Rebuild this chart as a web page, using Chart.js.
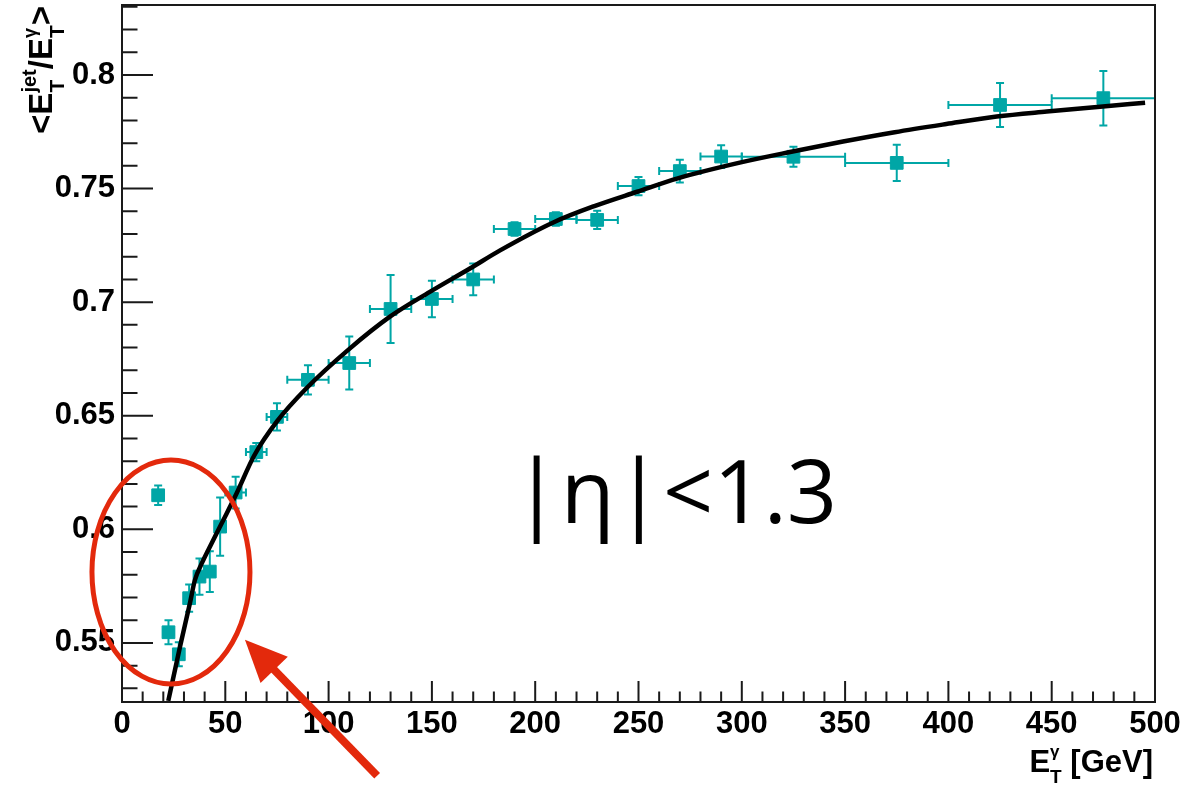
<!DOCTYPE html>
<html>
<head>
<meta charset="utf-8">
<script src="https://cdn.jsdelivr.net/npm/chart.js@4.4.1/dist/chart.umd.min.js"></script>
<style>
  html, body { margin: 0; padding: 0; background: #fff; }
  #wrap { width: 1184px; height: 785px; }
</style>
</head>
<body>
<div id="wrap"><canvas id="resp" width="1184" height="785"></canvas></div>
<script>
// photon E_T bins (centres and half widths)
const etGamma = [17.5, 22.5, 27.5, 32.5, 37.5, 42.5, 47.5, 55, 65, 75, 90, 110, 130, 150, 170,
                 190, 210, 230, 250, 270, 290, 325, 375, 425, 475];
const etHalfWidth = [2.5, 2.5, 2.5, 2.5, 2.5, 2.5, 2.5, 5, 5, 5, 10, 10, 10, 10, 10,
                     10, 10, 10, 10, 10, 10, 25, 25, 25, 25];
// mean jet/photon response and its error
const response = [0.615, 0.5547, 0.545, 0.5697, 0.5792, 0.5814, 0.6012, 0.6162, 0.634, 0.6495,
                  0.6658, 0.6732, 0.697, 0.7014, 0.710, 0.7322, 0.7366, 0.7362, 0.7511, 0.7577,
                  0.7641, 0.764, 0.7613, 0.7868, 0.7898];
const responseErr = [0.0043, 0.0053, 0.0053, 0.006, 0.008, 0.009, 0.0128, 0.007, 0.004, 0.006,
                     0.0064, 0.0117, 0.015, 0.008, 0.007, 0.003, 0.003, 0.004, 0.004, 0.005,
                     0.005, 0.0044, 0.008, 0.0097, 0.012];
// fitted curve
const fitEt = [22.4, 28.1, 32.9, 35.3, 38.6, 43.4, 49, 55.5, 64, 75, 89.4, 109.5, 129.7, 149,
               168.4, 183, 209, 229, 249.3, 269, 299, 324, 349, 374, 399, 423.4, 447.6, 473.4, 495.2];
const fitResponse = [0.5245, 0.5484, 0.5676, 0.5777, 0.585, 0.5939, 0.604, 0.6159, 0.6325, 0.6475,
                     0.6622, 0.679, 0.6936, 0.7045, 0.7148, 0.7228, 0.7352, 0.7424, 0.7486, 0.7545,
                     0.7614, 0.7662, 0.7707, 0.7748, 0.7784, 0.7817, 0.7839, 0.786, 0.7878];

const xTicks = [0, 50, 100, 150, 200, 250, 300, 350, 400, 450, 500];
const yTicks = [0.55, 0.6, 0.65, 0.7, 0.75, 0.8];

const TEAL = '#00a6a6';
const RED = '#e3290c';
const AXIS = '#1a1a1a';
const LABEL_FONT = 'Liberation Sans, Arial, Helvetica, sans-serif';

// annotation anchors, in data units
const circleCentre = { x: 23.7, y: 0.5812 };
const arrowTail = { x: 123.5, y: 0.4915 };
const arrowTip = { x: 59.5, y: 0.5514 };
const etaLabel = { x: 189, y: 0.6028, text: '|η|<1.3' };

function drawErrorBars(chart) {
  const c = chart.ctx, xs = chart.scales.x, ys = chart.scales.y;
  const cap = 4;
  c.save();
  c.strokeStyle = TEAL;
  c.lineWidth = 2;
  etGamma.forEach((et, i) => {
    const px = xs.getPixelForValue(et);
    const py = ys.getPixelForValue(response[i]);
    const x0 = xs.getPixelForValue(et - etHalfWidth[i]);
    const x1 = xs.getPixelForValue(et + etHalfWidth[i]);
    const y0 = ys.getPixelForValue(response[i] - responseErr[i]);
    const y1 = ys.getPixelForValue(response[i] + responseErr[i]);
    c.beginPath();
    c.moveTo(x0, py); c.lineTo(x1, py);
    c.moveTo(x0, py - cap); c.lineTo(x0, py + cap);
    c.moveTo(x1, py - cap); c.lineTo(x1, py + cap);
    c.moveTo(px, y0); c.lineTo(px, y1);
    c.moveTo(px - cap, y0); c.lineTo(px + cap, y0);
    c.moveTo(px - cap, y1); c.lineTo(px + cap, y1);
    c.stroke();
  });
  c.restore();
}

function drawFrame(chart) {
  const c = chart.ctx, a = chart.chartArea, xs = chart.scales.x, ys = chart.scales.y;
  c.save();
  c.strokeStyle = AXIS;
  c.lineWidth = 2;
  c.strokeRect(a.left, a.top, a.right - a.left, a.bottom - a.top);
  c.beginPath();
  // ticks point into the frame, like ROOT
  for (let v = 0; v <= 500; v += 10) {
    const px = xs.getPixelForValue(v);
    const len = v % 50 === 0 ? 21 : 10.5;
    c.moveTo(px, a.bottom); c.lineTo(px, a.bottom - len);
  }
  for (let k = 53; k <= 83; k++) {
    const v = k / 100;
    const py = ys.getPixelForValue(v);
    if (py < a.top || py > a.bottom) continue;
    const len = k % 5 === 0 ? 31 : 15.5;
    c.moveTo(a.left, py); c.lineTo(a.left + len, py);
  }
  c.stroke();
  c.restore();
}

// draws a run of [text, size, baselineShift] pieces left to right
function drawRun(c, x, y, pieces) {
  pieces.forEach(p => {
    if (p.stack) {
      let w = 0;
      p.stack.forEach(s => {
        c.font = 'bold ' + s[1] + 'px ' + LABEL_FONT;
        c.fillText(s[0], x, y + s[2]);
        w = Math.max(w, c.measureText(s[0]).width);
      });
      x += w;
    } else {
      c.font = 'bold ' + p[1] + 'px ' + LABEL_FONT;
      c.fillText(p[0], x, y + p[2]);
      x += c.measureText(p[0]).width;
    }
  });
  return x;
}

function drawTitles(chart) {
  const c = chart.ctx, a = chart.chartArea;
  c.save();
  c.fillStyle = '#000';
  c.textBaseline = 'alphabetic';
  c.textAlign = 'left';
  // x title, right aligned on the frame
  const xPieces = [['E', 31, 0], { stack: [['T', 19, 11], ['γ', 17, -15]] }, [' [GeV]', 31, 0]];
  const xw = drawRun(c, -5000, -5000, xPieces) + 5000;
  drawRun(c, a.right - xw - 2, 772, xPieces);
  // y title, rotated, ending at the top of the frame
  const yPieces = [['<E', 33, 0], { stack: [['T', 21, 12], ['jet', 20, -16]] }, ['/E', 33, 0],
                   { stack: [['T', 21, 12], ['γ', 18, -16]] }, ['>', 33, 0]];
  const yw = drawRun(c, -5000, -5000, yPieces) + 5000;
  c.translate(52, a.top + 1 + yw);
  c.rotate(-Math.PI / 2);
  drawRun(c, 0, 0, yPieces);
  c.restore();
}

function drawNotes(chart) {
  const c = chart.ctx, xs = chart.scales.x, ys = chart.scales.y;
  c.save();
  // |eta| range label
  c.fillStyle = '#000';
  c.font = '400 88px "Open Sans", "DejaVu Sans", sans-serif';
  c.textBaseline = 'alphabetic';
  c.textAlign = 'left';
  c.fillText(etaLabel.text, xs.getPixelForValue(etaLabel.x), ys.getPixelForValue(etaLabel.y));

  // ellipse around the low E_T points
  c.strokeStyle = RED;
  c.lineWidth = 5;
  c.beginPath();
  c.ellipse(xs.getPixelForValue(circleCentre.x), ys.getPixelForValue(circleCentre.y), 79, 112, 0, 0, Math.PI * 2);
  c.stroke();

  // arrow pointing at it
  const tx = xs.getPixelForValue(arrowTail.x), ty = ys.getPixelForValue(arrowTail.y);
  const hx = xs.getPixelForValue(arrowTip.x), hy = ys.getPixelForValue(arrowTip.y);
  const len = Math.hypot(hx - tx, hy - ty);
  const ux = (hx - tx) / len, uy = (hy - ty) / len;
  const headLen = 42, headHalf = 19;
  const bx = hx - ux * headLen, by = hy - uy * headLen;
  c.lineWidth = 8;
  c.lineCap = 'butt';
  c.beginPath();
  c.moveTo(tx, ty); c.lineTo(bx + ux * 4, by + uy * 4);
  c.stroke();
  c.fillStyle = RED;
  c.beginPath();
  c.moveTo(hx, hy);
  c.lineTo(bx - uy * headHalf, by + ux * headHalf);
  c.lineTo(bx + uy * headHalf, by - ux * headHalf);
  c.closePath();
  c.fill();
  c.restore();
}

const rootStyle = {
  id: 'rootStyle',
  beforeDatasetsDraw(chart) { drawErrorBars(chart); },
  afterDatasetsDraw(chart) { drawFrame(chart); },
  afterDraw(chart) { drawTitles(chart); drawNotes(chart); }
};

const ctx = document.getElementById('resp').getContext('2d');
const chart = new Chart(ctx, {
  type: 'scatter',
  data: {
    datasets: [{
      label: 'fit',
      data: fitEt.map((x, i) => ({ x: x, y: fitResponse[i] })),
      showLine: true,
      borderColor: '#000',
      borderWidth: 4.5,
      pointRadius: 0,
      cubicInterpolationMode: 'monotone',
      order: 0
    }, {
      label: 'response',
      data: etGamma.map((x, i) => ({ x: x, y: response[i] })),
      pointStyle: 'rect',
      pointRadius: 9,
      backgroundColor: TEAL,
      borderColor: TEAL,
      borderWidth: 1,
      order: 1
    }]
  },
  options: {
    responsive: false,
    animation: false,
    devicePixelRatio: 1,
    layout: { autoPadding: false, padding: { top: 5, right: 29, left: 0, bottom: 0 } },
    plugins: { legend: { display: false }, tooltip: { enabled: false } },
    scales: {
      x: {
        type: 'linear', min: 0, max: 500,
        grid: { display: false, drawTicks: false },
        border: { display: false },
        afterBuildTicks(s) { s.ticks = xTicks.map(v => ({ value: v })); },
        afterFit(s) { s.height = 83; s.paddingLeft = 0; s.paddingRight = 0; },
        ticks: {
          padding: 4, color: '#000', maxRotation: 0, autoSkip: false,
          font: { family: LABEL_FONT, size: 31, weight: 'bold', lineHeight: 1.2 }
        }
      },
      y: {
        type: 'linear', min: 0.524, max: 0.8308,
        grid: { display: false, drawTicks: false },
        border: { display: false },
        afterBuildTicks(s) { s.ticks = yTicks.map(v => ({ value: v })); },
        afterFit(s) { s.width = 122; s.paddingTop = 0; s.paddingBottom = 0; },
        ticks: {
          padding: 7, color: '#000', autoSkip: false,
          font: { family: LABEL_FONT, size: 31, weight: 'bold', lineHeight: 1.2 },
          callback: v => String(+v.toFixed(2))
        }
      }
    }
  },
  plugins: [rootStyle]
});
</script>
</body>
</html>
